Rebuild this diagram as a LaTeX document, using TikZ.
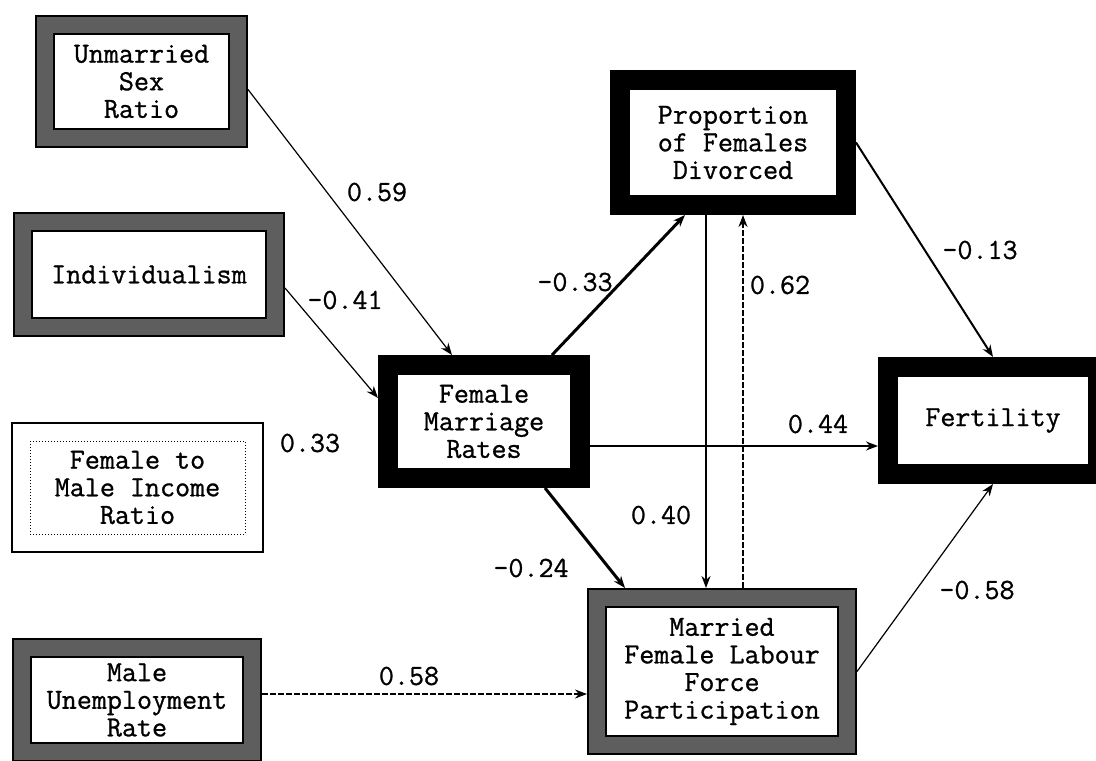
\documentclass[tikz,border=0pt]{standalone}
\usepackage{fontspec}
\newfontfamily\courfont{Latin Modern Mono}[FakeBold=0.9]
\usepackage{tikz}
\usetikzlibrary{positioning, arrows.meta, calc}
\usepackage{xcolor}
\definecolor{pdgray}{HTML}{5E5E5E}

\begin{document}
\begin{tikzpicture}[x=0.5pt, y=-0.5pt,
    font=\courfont\fontsize{14.6}{13.8}\selectfont,
    gbox/.style={draw=black, line width=0.8pt, double=pdgray, double distance=8.4pt,
      align=center, inner sep=0pt, outer sep=5pt},
    kbox/.style={draw=black, line width=10pt, align=center, inner sep=0pt, outer sep=5pt},
    lnk/.style={-{Stealth[length=6pt, width=4.5pt]}, line width=0.6pt},
    lnkb/.style={lnk, line width=1.5pt},
    lnkd/.style={lnk, dash pattern=on 3pt off 1pt}]
  \useasboundingbox[fill=white] (0,0) rectangle (1096,760);

  % exogenous variables
  \node[gbox, minimum width=96.5pt, minimum height=56.5pt] (usr) at (141.5,81.5) {Unmarried\\Sex\\Ratio};
  \node[gbox, minimum width=126pt, minimum height=52.5pt] (ind) at (149,274.5) {Individualism};
  \node[draw, line width=1pt, minimum width=125.5pt, minimum height=64.5pt, align=center] (fmir) at (137.5,487.5)
    {Female to\\Male Income\\Ratio};
  \draw[densely dotted, line width=0.5pt] ($(fmir.north west)+(19,19)$) rectangle ($(fmir.south east)+(-19,-19)$);
  \node[gbox, minimum width=115pt, minimum height=52pt] (mur) at (137,700) {Male\\Unemployment\\Rate};

  % endogenous variables
  \node[kbox, minimum width=96pt, minimum height=56.5pt] (fmr) at (484,421.5) {Female\\Marriage\\Rates};
  \node[kbox, minimum width=113pt, minimum height=62.5pt] (pfd) at (733,142.5) {Proportion\\of Females\\Divorced};
  \node[kbox, minimum width=105pt, minimum height=53.5pt] (fert) at (993,420.5) {Fertility};
  \node[gbox, minimum width=125pt, minimum height=73.5pt] (mflfp) at (722,671.5)
    {Married\\Female Labour\\Force\\Participation};

  % paths
  \draw[lnk] ([yshift=-4pt]usr.east) -- ([xshift=-16pt]fmr.north);
  \draw[lnk] ([yshift=-6.75pt]ind.east) -- ([yshift=11.75pt]fmr.west);
  \draw[lnkb] ([xshift=34pt]fmr.north) -- ([xshift=-24pt]pfd.south);
  \draw[lnk, line width=0.8pt] ([yshift=-12.25pt]fmr.east) -- ([yshift=-12.25pt]fmr.east -| fert.west);
  \draw[lnkb] ([xshift=30.5pt]fmr.south) -- ([xshift=-48.5pt]mflfp.north);
  \draw[lnk, line width=1pt] ([xshift=-13.5pt]pfd.south) -- ([xshift=-13.5pt]pfd.south |- mflfp.north);
  \draw[lnkd] ([xshift=5pt]pfd.south |- mflfp.north) -- ([xshift=5pt]pfd.south);
  \draw[lnk, line width=1pt] (pfd.east) -- (fert.north);
  \draw[lnk] (mflfp.east) -- (fert.south);
  \draw[lnkd] ([yshift=3pt]mur.east) -- ([yshift=3pt]mur.east -| mflfp.west);

  % coefficients
  \node (c059) at (377,192) {0.59};
  \node (c041) at (345,300) {-0.41};
  \node (c033) at (310,443) {0.33};
  \node (d033) at (575,282) {-0.33};
  \node (c062) at (780,285) {0.62};
  \node (c013) at (980,250) {-0.13};
  \node (c044) at (818,424) {0.44};
  \node (c040) at (661,515) {0.40};
  \node (c024) at (531,568) {-0.24};
  \node (c058) at (409,676) {0.58};
  \node (d058) at (977,590) {-0.58};
\end{tikzpicture}
\end{document}
